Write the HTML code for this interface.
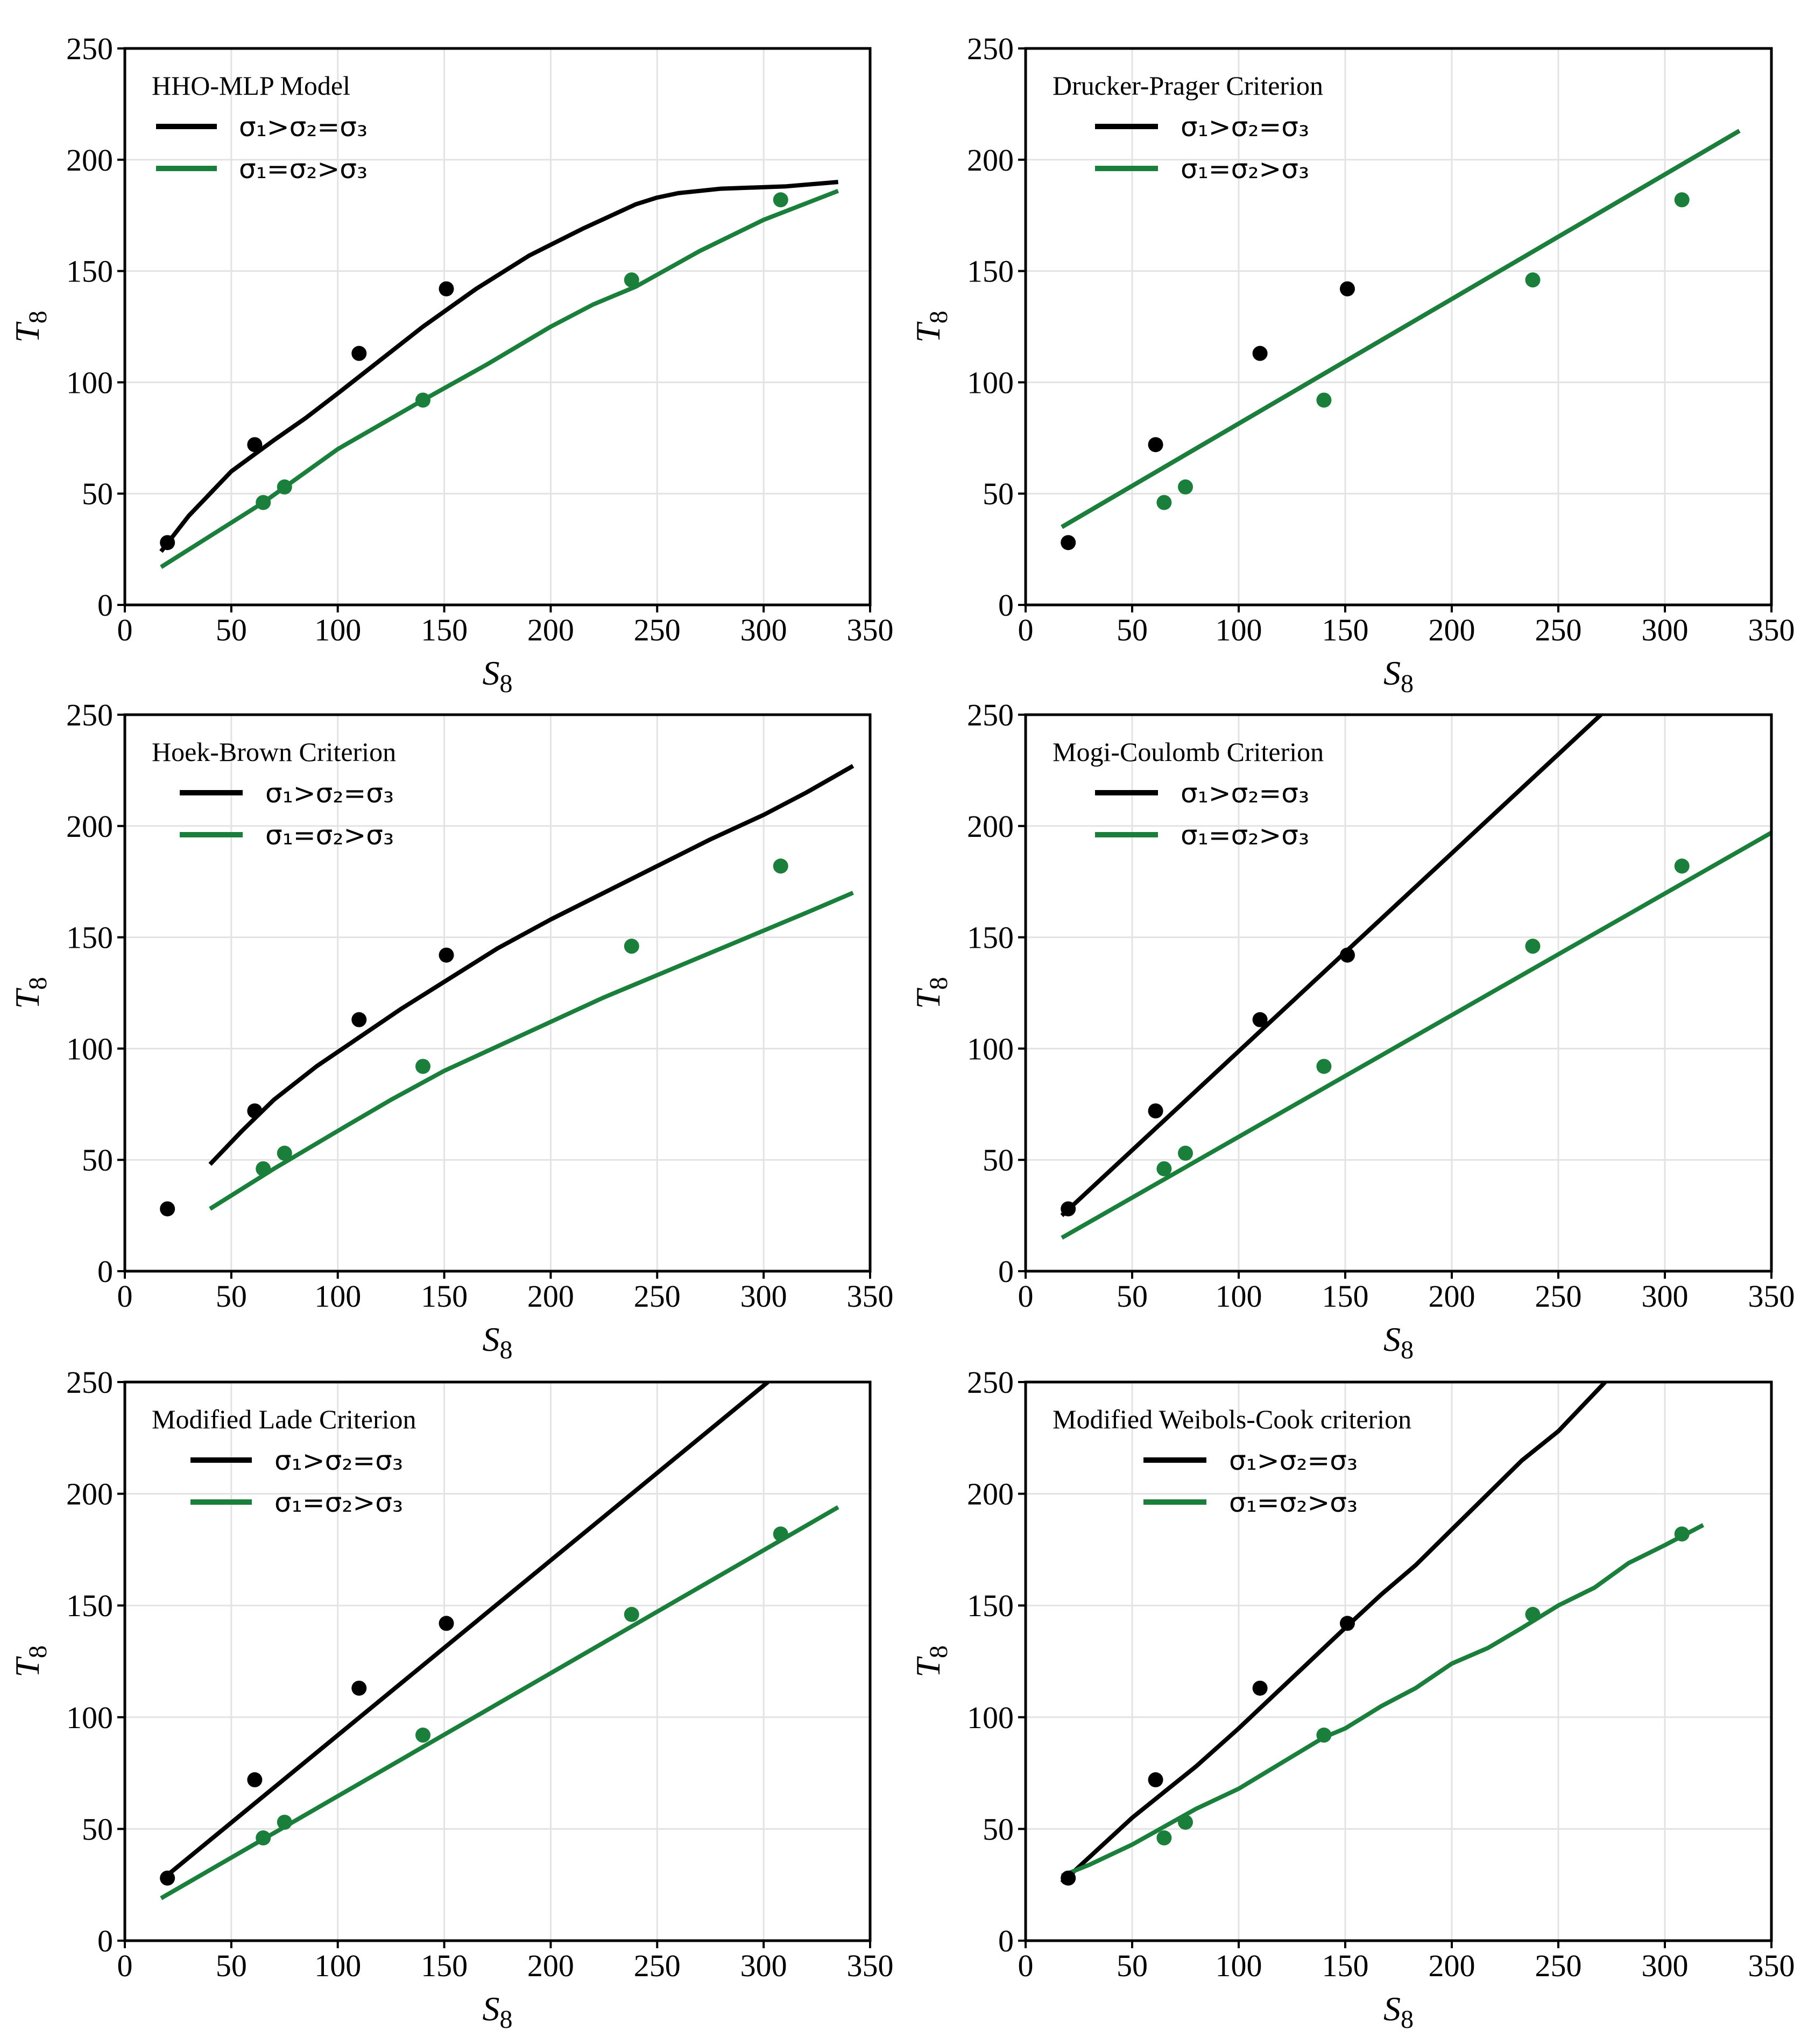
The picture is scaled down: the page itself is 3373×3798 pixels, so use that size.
<!DOCTYPE html>
<html><head><meta charset="utf-8"><style>
html,body{margin:0;padding:0;background:#fff}
svg{display:block;font-family:"Liberation Serif",serif}
</style></head><body>
<svg id="fig" width="3373" height="3798" viewBox="0 0 3373 3798" xmlns="http://www.w3.org/2000/svg"></svg>
<script>
const xTicks=[0,50,100,150,200,250,300,350];
const yTicks=[0,50,100,150,200,250];
const expBlackX=[20,61,110,151];
const expBlackY=[28,72,113,142];
const expGreenX=[65,75,140,238,308];
const expGreenY=[46,53,92,146,182];
const titles=["HHO-MLP Model","Drucker-Prager Criterion","Hoek-Brown Criterion","Mogi-Coulomb Criterion","Modified Lade Criterion","Modified Weibols-Cook criterion"];
const legendLabels=["σ\u2081>σ\u2082=σ\u2083","σ\u2081=σ\u2082>σ\u2083"];
const p1BlackX=[17,30,40,50,60,70,85,100,120,140,165,190,215,240,250,260,280,310,335];
const p1BlackY=[24,40,50,60,67,74,84,95,110,125,142,157,169,180,183,185,187,188,190];
const p1GreenX=[17,65,100,140,170,200,220,240,270,300,335];
const p1GreenY=[17,46,70,92,108,125,135,143,159,173,186];
const p2BlackX=[17,335];
const p2BlackY=[35,213];
const p2GreenX=[17,335];
const p2GreenY=[35,213];
const p3BlackX=[40,55,70,90,110,130,150,175,200,225,250,275,300,320,342];
const p3BlackY=[48,63,77,92,105,118,130,145,158,170,182,194,205,215,227];
const p3GreenX=[40,70,100,125,150,175,200,225,250,275,300,320,342];
const p3GreenY=[28,46,63,77,90,101,112,123,133,143,153,161,170];
const p4BlackX=[17,270];
const p4BlackY=[25,250];
const p4GreenX=[17,350];
const p4GreenY=[15,197];
const p5BlackX=[17,302];
const p5BlackY=[27,250];
const p5GreenX=[17,335];
const p5GreenY=[19,194];
const p6BlackX=[17,50,80,100,150,167,183,200,233,250,272];
const p6BlackY=[26,55,78,95,140,155,168,184,215,228,250];
const p6GreenX=[17,30,50,65,80,100,140,150,167,183,200,217,233,250,267,283,300,318];
const p6GreenY=[29,34,43,51,59,68,91,95,105,113,124,131,140,150,158,169,177,186];

const panels=[
 {L:232,R:1617,T:90,B:1124,bx:p1BlackX,by:p1BlackY,gx:p1GreenX,gy:p1GreenY,lg:[58,171,212]},
 {L:1906,R:3292,T:90,B:1124,bx:p2BlackX,by:p2BlackY,gx:p2GreenX,gy:p2GreenY,lg:[129,246,288]},
 {L:232,R:1617,T:1328,B:2362,bx:p3BlackX,by:p3BlackY,gx:p3GreenX,gy:p3GreenY,lg:[102,219,261]},
 {L:1906,R:3292,T:1328,B:2362,bx:p4BlackX,by:p4BlackY,gx:p4GreenX,gy:p4GreenY,lg:[129,246,288]},
 {L:232,R:1617,T:2568,B:3606,bx:p5BlackX,by:p5BlackY,gx:p5GreenX,gy:p5GreenY,lg:[122,236,278]},
 {L:1906,R:3292,T:2568,B:3606,bx:p6BlackX,by:p6BlackY,gx:p6GreenX,gy:p6GreenY,lg:[219,336,378]}
];
const NS="http://www.w3.org/2000/svg";
const svg=document.getElementById('fig');
const GREEN="#1a7f3a";
function mk(tag,parent,attrs){const e=document.createElementNS(NS,tag);for(const k in attrs)e.setAttribute(k,attrs[k]);parent.appendChild(e);return e;}

panels.forEach((p,i)=>{
  const sx=v=>p.L+(v/350)*(p.R-p.L);
  const sy=v=>p.B-(v/250)*(p.B-p.T);
  const g=mk('g',svg,{});
  
  
  const clipId='clip'+i;
  const cp=mk('clipPath',g,{id:clipId});
  mk('rect',cp,{x:p.L,y:p.T,width:p.R-p.L,height:p.B-p.T});
  xTicks.forEach(t=>{
    const l=mk('line',g,{x1:sx(t),x2:sx(t),y1:p.T,y2:p.B,stroke:'#e3e3e3','stroke-width':3});
    
    
    mk('line',g,{x1:sx(t),x2:sx(t),y1:p.B,y2:p.B+14,stroke:'#000','stroke-width':4});
    const tx=mk('text',g,{x:sx(t),y:p.B+66,'text-anchor':'middle','font-size':58});
    tx.textContent=t;
    
    
  });
  yTicks.forEach(t=>{
    const l=mk('line',g,{x1:p.L,x2:p.R,y1:sy(t),y2:sy(t),stroke:'#e3e3e3','stroke-width':3});
    
    
    mk('line',g,{x1:p.L-14,x2:p.L,y1:sy(t),y2:sy(t),stroke:'#000','stroke-width':4});
    const tx=mk('text',g,{x:p.L-22,y:sy(t)+20,'text-anchor':'end','font-size':58});
    tx.textContent=t;
    
    
  });
  const cg=mk('g',g,{'clip-path':'url(#'+clipId+')'});
  const pts=(xs,ys)=>xs.map((x,j)=>sx(x)+','+sy(ys[j])).join(' ');
  const lb=mk('polyline',cg,{points:pts(p.bx,p.by),fill:'none',stroke:'#000','stroke-width':8,'stroke-linejoin':'round'});
  
  
  const lgr=mk('polyline',cg,{points:pts(p.gx,p.gy),fill:'none',stroke:GREEN,'stroke-width':8,'stroke-linejoin':'round'});
  
  
  expBlackX.forEach((x,j)=>{
    const c=mk('circle',g,{cx:sx(x),cy:sy(expBlackY[j]),r:14,fill:'#000'});
    
    
  });
  expGreenX.forEach((x,j)=>{
    const c=mk('circle',g,{cx:sx(x),cy:sy(expGreenY[j]),r:14,fill:GREEN});
    
    
  });
  const fr=mk('rect',g,{x:p.L,y:p.T,width:p.R-p.L,height:p.B-p.T,fill:'none',stroke:'#000','stroke-width':5});
  
  
  const tt=mk('text',g,{x:p.L+50,y:p.T+86,'font-size':50});
  tt.textContent=titles[i];
  
  
  [0,1].forEach(k=>{
    const ly=p.T+145+k*78;
    const ll=mk('line',g,{x1:p.L+p.lg[0],x2:p.L+p.lg[1],y1:ly,y2:ly,stroke:k?GREEN:'#000','stroke-width':10});
    
    
    const lt=mk('text',g,{x:p.L+p.lg[2],y:ly+18,'font-size':50,'font-family':'"DejaVu Sans",sans-serif'});
    lt.textContent=legendLabels[k];
    
    
  });
  const xl=mk('text',g,{x:(p.L+p.R)/2,y:p.B+148,'text-anchor':'middle','font-size':64});
  xl.innerHTML='<tspan font-style="italic">S</tspan><tspan dy="14" font-size="48">8</tspan>';
  
  
  const cy=(p.T+p.B)/2;
  const yl=mk('text',g,{x:0,y:0,'text-anchor':'middle','font-size':64,transform:'translate('+(p.L-160)+','+cy+') rotate(-90)'});
  yl.innerHTML='<tspan font-style="italic">T</tspan><tspan dy="14" font-size="48">8</tspan>';
  
  
});
</script>
</body></html>
